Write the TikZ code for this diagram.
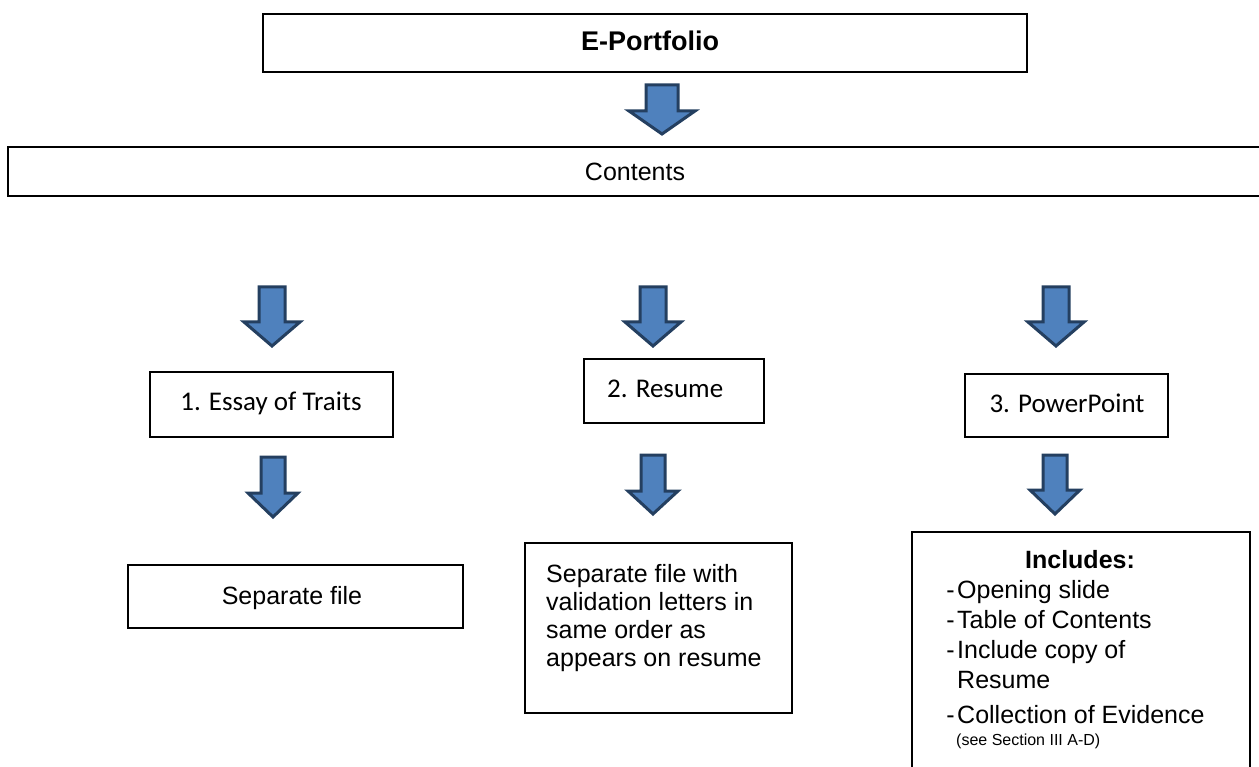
\documentclass[tikz,border=0pt]{standalone}
\usepackage{fontspec}
\setmainfont{Liberation Sans}
\newfontfamily\calib{Carlito}
\definecolor{arrowfill}{HTML}{4F81BD}
\definecolor{arrowline}{HTML}{243F60}
\newcommand\blockarr[6]{% cx, top, headtop, tip, shafthalf, headhalf
  \draw[barrow] ({#1-#5},#2) -- ({#1+#5},#2) -- ({#1+#5},#3) -- ({#1+#6},#3)
    -- (#1,#4) -- ({#1-#6},#3) -- ({#1-#5},#3) -- cycle;}
\begin{document}
\begin{tikzpicture}[x=1pt,y=-1pt,
  box/.style={draw=black, line width=1.6pt},
  barrow/.style={fill=arrowfill, draw=arrowline, line width=3pt, line join=miter},
  txt/.style={inner sep=0pt, font=\fontsize{25}{30}\selectfont},
  ctxt/.style={inner sep=0pt, font=\calib\fontsize{27}{32}\selectfont}]
\useasboundingbox (0,0) rectangle (1259,767);
\fill[white] (0,0) rectangle (1259,767);
\begin{scope}
\clip (0,0) rectangle (1259,767);
% boxes
\draw[box] (263,14) rectangle (1027,72);
\draw[box] (8,147) rectangle (1275,196);
\draw[box] (150,372) rectangle (393,437);
\draw[box] (584,359) rectangle (764,423);
\draw[box] (965,374) rectangle (1168,437);
\draw[box] (128,565) rectangle (463,628);
\draw[box] (525,543) rectangle (792,713);
\draw[box] (912,532) rectangle (1250,790);
\end{scope}
% texts
\node[txt, font=\bfseries\fontsize{27}{32}\selectfont, anchor=base] (eptxt) at (650,51) {E-Portfolio};
\node[txt, anchor=base] (conttxt) at (635,181) {Contents};
\node[ctxt, anchor=base] (essay) at (271,410) {1. Essay of Traits};
\node[ctxt, anchor=base west] (resume) at (607,397) {2. Resume};
\node[ctxt, anchor=base] (ppt) at (1067,412) {3. PowerPoint};
\node[txt, anchor=base] (sepfile) at (292,604) {Separate file};
\node[txt, anchor=base west] (sv1) at (546,582) {Separate file with};
\node[txt, anchor=base west] (sv2) at (546,610) {validation letters in};
\node[txt, anchor=base west] (sv3) at (546,638) {same order as};
\node[txt, anchor=base west] (sv4) at (546,666) {appears on resume};
\node[txt, font=\bfseries\fontsize{25}{30}\selectfont, anchor=base] (incl) at (1080,568) {Includes:};
\node[txt, anchor=base east] (d1) at (955,598) {-};
\node[txt, anchor=base west] (l1) at (957,598) {Opening slide};
\node[txt, anchor=base east] (d2) at (955,628) {-};
\node[txt, anchor=base west] (l2) at (957,628) {Table of Contents};
\node[txt, anchor=base east] (d3) at (955,658) {-};
\node[txt, anchor=base west] (l3) at (957,658) {Include copy of};
\node[txt, anchor=base west] (l3b) at (957,688) {Resume};
\node[txt, anchor=base east] (d4) at (955,723) {-};
\node[txt, anchor=base west] (l4) at (957,723) {Collection of Evidence};
\node[txt, font=\fontsize{16}{19}\selectfont, anchor=base west] (l4b) at (956,745) {(see Section III A-D)};
% arrows
\blockarr{662}{85}{111}{134}{16}{33}
\blockarr{272}{287}{322}{346}{13}{28}
\blockarr{653}{287}{322}{346}{13}{28}
\blockarr{1056}{287}{322}{346}{13}{28}
\blockarr{273}{457}{493}{517}{12}{25}
\blockarr{653}{455}{491}{514}{12}{25}
\blockarr{1055}{455}{490}{514}{12}{25}
\end{tikzpicture}
\end{document}
